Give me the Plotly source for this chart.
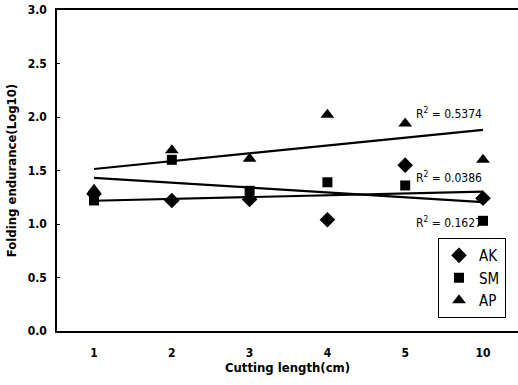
import numpy as np
import plotly.graph_objects as go

# Cutting lengths (cm) shown as evenly spaced categories
lengths = ["1", "2", "3", "4", "5", "10"]
positions = [1, 2, 3, 4, 5, 6]

# Folding endurance, log10 scale
ak = [1.28, 1.22, 1.23, 1.04, 1.55, 1.24]
sm = [1.22, 1.60, 1.31, 1.39, 1.36, 1.03]
ap = [1.32, 1.69, 1.61, 2.02, 1.94, 1.60]

r2_labels = ["R<sup>2</sup> = 0.5374", "R<sup>2</sup> = 0.0386", "R<sup>2</sup> = 0.1627"]

FONT = "Liberation Sans Narrow, DejaVu Sans Condensed, Arial Narrow, sans-serif"

fig = go.Figure()

series = [
    ("AK", ak, "diamond", 12),
    ("SM", sm, "square", 10),
    ("AP", ap, "triangle-up", 12),
]

# linear trend lines (least squares over category positions)
for name, vals, sym, size in series:
    slope, icpt = np.polyfit(positions, vals, 1)
    xs = [positions[0], positions[-1]]
    fig.add_trace(go.Scatter(
        x=xs, y=[slope * x + icpt for x in xs], mode="lines",
        line=dict(color="black", width=2.2), showlegend=False, hoverinfo="skip"))

for name, vals, sym, size in series:
    fig.add_trace(go.Scatter(
        x=positions, y=vals, mode="markers", name=name,
        marker=dict(symbol=sym, size=size, color="black")))

# R-squared labels
for text, y in zip(r2_labels, [2.04, 1.44, 1.02]):
    fig.add_annotation(x=5.565, y=y, text=text, showarrow=False, xanchor="center",
                       font=dict(size=12, family=FONT, color="black"))

fig.update_layout(
    width=518, height=385,
    margin=dict(l=57, r=0, t=10, b=54),
    paper_bgcolor="white", plot_bgcolor="white",
    font=dict(family=FONT, color="black", size=12),
    legend=dict(x=0.826, y=0.29, xanchor="left", yanchor="top",
                bordercolor="black", borderwidth=1.2, bgcolor="white",
                font=dict(size=15, family=FONT), tracegroupgap=0),
)
fig.update_xaxes(
    range=[0.524, 6.45], tickvals=positions, ticktext=lengths,
    showgrid=False, zeroline=False, showline=True, linecolor="black", linewidth=1.5,
    mirror=True, ticks="", ticklabelstandoff=10,
    tickfont=dict(size=12, family=FONT, weight="bold"),
    title=dict(text="Cutting length(cm)", standoff=3,
               font=dict(size=13, family=FONT, weight="bold")),
)
fig.update_yaxes(
    range=[0, 3.0], dtick=0.5, tickformat=".1f",
    showgrid=False, zeroline=False, showline=True, linecolor="black", linewidth=1.5,
    mirror=False, ticks="inside", ticklen=3, tickcolor="black", ticklabelstandoff=6,
    tickfont=dict(size=12, family=FONT, weight="bold"),
    title=dict(text="Folding endurance(Log10)", standoff=8,
               font=dict(size=13, family=FONT, weight="bold")),
)

fig.write_html("out.html")
